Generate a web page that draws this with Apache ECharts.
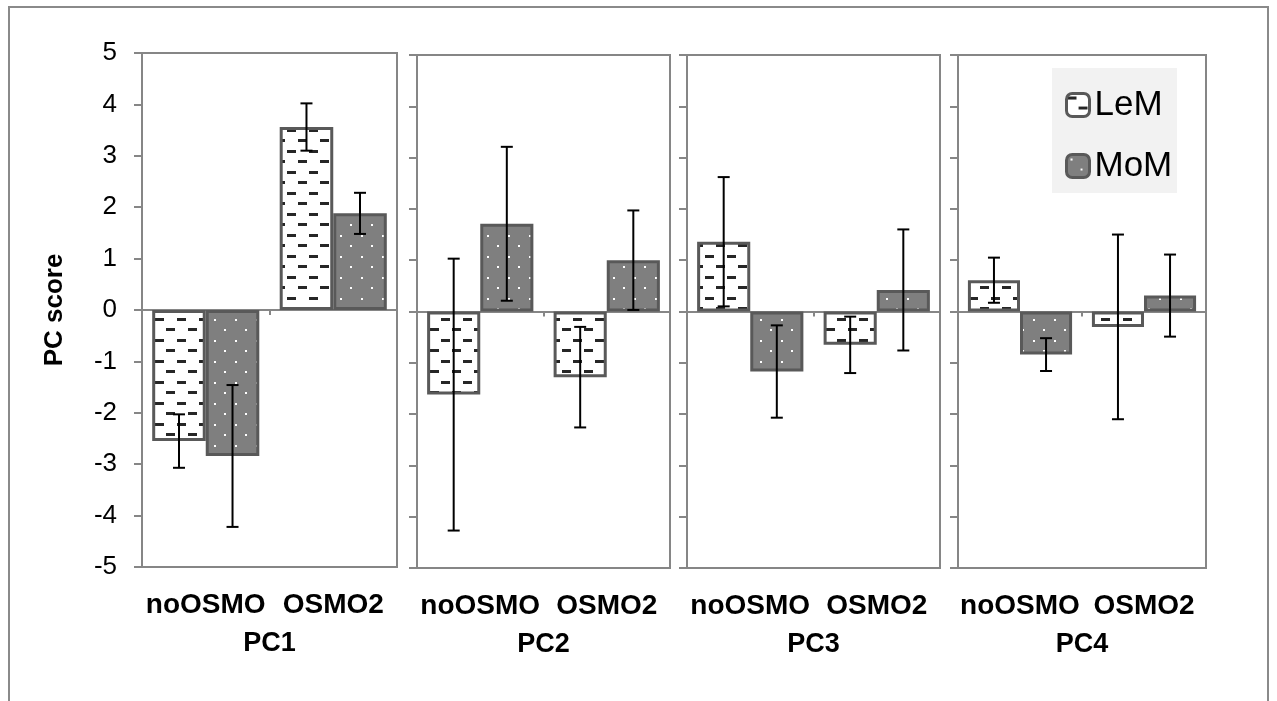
<!DOCTYPE html>
<html>
<head>
<meta charset="utf-8">
<script src="https://cdn.jsdelivr.net/npm/echarts@6/dist/echarts.min.js"></script>
<style>
html,body{margin:0;padding:0;background:#fff;}
#chart{width:1277px;height:701px;}
</style>
</head>
<body>
<div id="chart"></div>
<script>
// ---- data ----
const categories = ['noOSMO', 'OSMO2'];
const components = ['PC1', 'PC2', 'PC3', 'PC4'];
const lemMean = [[-2.55, 3.56], [-1.62, -1.28], [1.36, -0.65], [0.61, -0.30]];
const lemErr  = [[0.52, 0.46], [2.65, 0.98], [1.26, 0.55], [0.44, 1.80]];
const momMean = [[-2.84, 1.88], [1.71, 1.00], [-1.17, 0.42], [-0.84, 0.31]];
const momErr  = [[1.38, 0.40], [1.50, 0.97], [0.90, 1.18], [0.32, 0.80]];
const yMin = -5, yMax = 5, yStep = 1;

// ---- layout ----
const panelBoxes = [
  {left: 142, top: 53, width: 255, height: 514},
  {left: 417, top: 55, width: 253, height: 513},
  {left: 687, top: 55, width: 253, height: 513},
  {left: 958, top: 55, width: 248, height: 513}
];
const FONT = "'Liberation Sans', Arial, Helvetica, sans-serif";
const GRAY = '#868686';
const BAR_BORDER = '#595959';
const CAT_GAP = 0.16;

function dashPattern() {
  const c = document.createElement('canvas');
  c.width = 22; c.height = 21;
  const g = c.getContext('2d');
  g.fillStyle = '#ffffff'; g.fillRect(0, 0, 22, 21);
  g.fillStyle = '#262626';
  g.fillRect(1, 3, 9, 3);
  g.fillRect(12, 13, 9, 3);
  return c;
}
function dotPattern() {
  const c = document.createElement('canvas');
  c.width = 21; c.height = 21;
  const g = c.getContext('2d');
  g.fillStyle = '#7f7f7f'; g.fillRect(0, 0, 21, 21);
  g.fillStyle = '#ffffff';
  g.fillRect(4, 4, 2, 2);
  g.fillRect(14, 14, 2, 2);
  return c;
}
const lemFill = {image: dashPattern(), repeat: 'repeat'};
const momFill = {image: dotPattern(), repeat: 'repeat'};

const grids = [], xAxes = [], yAxes = [], series = [];
components.forEach((pc, i) => {
  const b = panelBoxes[i];
  grids.push({left: b.left, top: b.top, width: b.width, height: b.height,
    show: true, borderColor: GRAY, borderWidth: 2, backgroundColor: 'transparent'});
  // zero line axis
  xAxes.push({gridIndex: i, type: 'category', data: categories, position: 'top',
    axisLine: {show: true, onZero: true, lineStyle: {color: GRAY, width: 2}},
    axisTick: {show: true, inside: true, length: 5, lineStyle: {color: GRAY, width: 2}},
    axisLabel: {show: false}, splitLine: {show: false}});
  // label axis
  xAxes.push({gridIndex: i, type: 'category', data: categories, position: 'bottom',
    axisLine: {show: false, onZero: false}, axisTick: {show: false},
    axisLabel: {show: true, interval: 0, hideOverlap: false, fontFamily: FONT, fontSize: 28,
      fontWeight: 'bold', color: '#000', margin: 24},
    name: pc, nameLocation: 'middle', nameGap: 63,
    nameTextStyle: {fontFamily: FONT, fontSize: 27, fontWeight: 'bold', color: '#000'}});
  yAxes.push({gridIndex: i, type: 'value', min: yMin, max: yMax, interval: yStep,
    axisLine: {show: true, lineStyle: {color: GRAY, width: 2}},
    axisTick: {show: true, length: 8, lineStyle: {color: GRAY, width: 2}},
    splitLine: {show: false},
    axisLabel: {show: i === 0, fontFamily: FONT, fontSize: 26, color: '#000', margin: 25},
    name: i === 0 ? 'PC score' : '', nameLocation: 'middle', nameGap: 74, nameRotate: 90,
    nameTextStyle: {fontFamily: FONT, fontSize: 26, fontWeight: 'bold', color: '#000'}});

  const xa = i * 2;
  series.push({name: 'LeM', type: 'bar', xAxisIndex: xa, yAxisIndex: i,
    data: lemMean[i], barGap: '0%', barCategoryGap: (CAT_GAP * 100) + '%',
    itemStyle: {color: lemFill, borderColor: BAR_BORDER, borderWidth: 3}, z: 2});
  series.push({name: 'MoM', type: 'bar', xAxisIndex: xa, yAxisIndex: i,
    data: momMean[i], barGap: '0%', barCategoryGap: (CAT_GAP * 100) + '%',
    itemStyle: {color: momFill, borderColor: BAR_BORDER, borderWidth: 3}, z: 2});

  const errData = [];
  categories.forEach((c, k) => {
    errData.push([k, lemMean[i][k], lemErr[i][k], -1]);
    errData.push([k, momMean[i][k], momErr[i][k], 1]);
  });
  series.push({type: 'custom', xAxisIndex: xa, yAxisIndex: i, z: 5, silent: true,
    data: errData,
    encode: {x: 0, y: 1},
    renderItem: function (params, api) {
      const cat = api.value(0), m = api.value(1), e = api.value(2), side = api.value(3);
      const band = api.size([1, 0])[0];
      const bw = band * (1 - CAT_GAP) / 2;
      const cx = api.coord([cat, 0])[0] + side * bw / 2;
      const yt = api.coord([cat, m + e])[1];
      const yb = api.coord([cat, m - e])[1];
      const cap = 6;
      const st = {stroke: '#000', lineWidth: 2};
      return {type: 'group', children: [
        {type: 'line', shape: {x1: cx, y1: yt, x2: cx, y2: yb}, style: st},
        {type: 'line', shape: {x1: cx - cap, y1: yt, x2: cx + cap, y2: yt}, style: st},
        {type: 'line', shape: {x1: cx - cap, y1: yb, x2: cx + cap, y2: yb}, style: st}
      ]};
    }});
});

const chart = echarts.init(document.getElementById('chart'), null, {renderer: 'canvas'});
chart.setOption({
  animation: false,
  backgroundColor: '#ffffff',
  grid: grids,
  xAxis: xAxes,
  yAxis: yAxes,
  series: series,
  legend: {
    data: ['LeM', 'MoM'], orient: 'vertical', left: 1060, top: 80,
    itemWidth: 23, itemHeight: 23, itemGap: 21, icon: 'roundRect',
    itemStyle: {borderWidth: 3, borderColor: BAR_BORDER},
    textStyle: {fontFamily: FONT, fontSize: 35, color: '#000', lineHeight: 40},
    selectedMode: false, z: 10
  },
  graphic: [
    {type: 'rect', z: 0, silent: true, shape: {x: 9, y: 7, width: 1259, height: 720},
      style: {fill: 'none', stroke: '#8a8a8a', lineWidth: 2}},
    {type: 'rect', z: 1, silent: true, shape: {x: 1052, y: 68, width: 125, height: 125},
      style: {fill: '#f2f2f2'}}
  ]
});
</script>
</body>
</html>
